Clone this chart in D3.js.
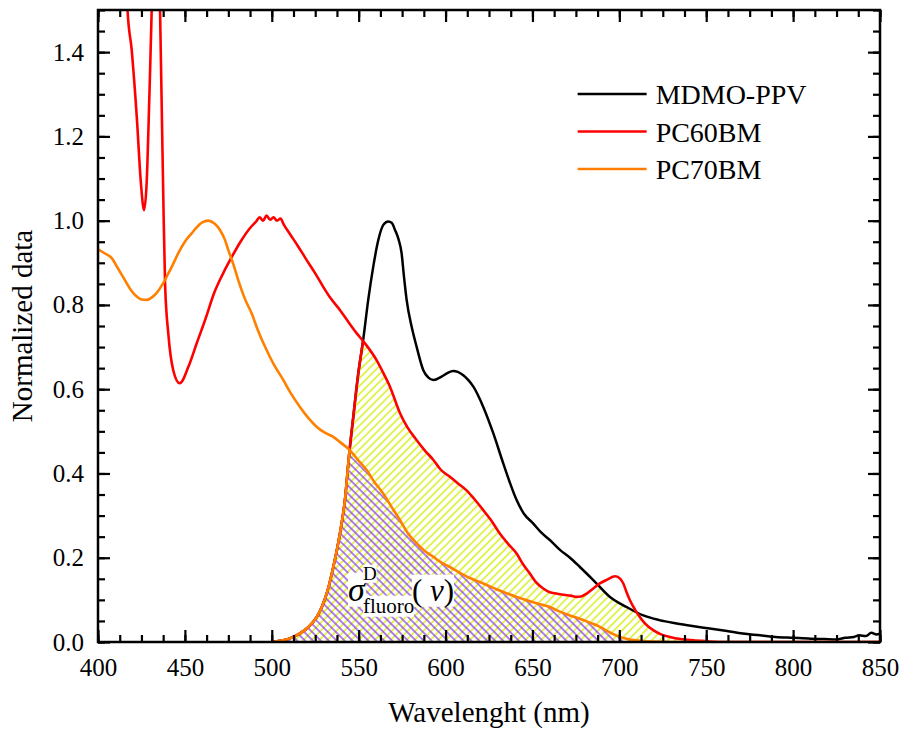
<!DOCTYPE html>
<html>
<head>
<meta charset="utf-8">
<script src="https://cdn.jsdelivr.net/npm/d3@7"></script>
<style>
  body { margin: 0; background: #fff; }
  svg text { font-family: "Liberation Serif", "Times New Roman", serif; fill: #000; }
</style>
</head>
<body>
<div id="chart"></div>
<script>
// ---- data ----
const mdmoWl  = [500,505,510,516,521,526,529,532,535.4,539.2,542.1,544.4,546.9,549.8,552.6,555.5,558.4,561.3,564.2,567,569,570.9,573,574.7,576,577.6,580.5,583.4,587.2,590,593,597.7,601,604.4,607,610.2,613,616,621.7,627.5,633.2,640.9,645,650.5,655,660,666,671.6,677.3,685,694.6,704.2,713.8,723,733,742,752,762,771,781,790,800,810,818,825,830,835,838,842,845,848,850];
const mdmoVal = [0,0.003,0.008,0.02,0.035,0.06,0.085,0.12,0.178,0.257,0.337,0.44,0.534,0.638,0.717,0.812,0.891,0.954,0.99,0.998,0.995,0.978,0.955,0.923,0.87,0.812,0.748,0.70,0.645,0.628,0.622,0.63,0.638,0.643,0.641,0.633,0.622,0.606,0.558,0.495,0.424,0.337,0.305,0.281,0.26,0.242,0.218,0.2,0.178,0.147,0.107,0.083,0.063,0.052,0.044,0.038,0.032,0.026,0.02,0.016,0.012,0.01,0.008,0.007,0.006,0.01,0.012,0.016,0.014,0.022,0.018,0.02];

const pc60Wl  = [400,410,415,417,419.4,422.3,424.7,426.5,428,429.5,430.9,432,433.5,435,435.7,436.6,437.6,438.6,440.5,443.3,447,452,456.8,461.6,467,472,477,482,488,491,493,495,497,499,501,503,505,507,511,515,520,525,529.6,534,539.2,544,548.8,553.6,560.3,564,568,573.8,578,583.4,588,593,597,602.5,607,612.1,617,621.7,626,631.3,636,640.9,644.5,648.6,652,656.2,660,663.9,668,672,675.4,678,681.2,685,688.8,693,697.5,700,702.3,704,706.1,709,711.9,715,719.5,724,729.1,735,742.5,750,760,850];
const pc60Val = [3.0,2.2,1.75,1.5,1.405,1.247,1.089,1.025,1.09,1.287,1.5,1.75,1.85,1.65,1.5,1.287,1.05,0.85,0.73,0.645,0.614,0.653,0.709,0.764,0.83,0.875,0.914,0.95,0.985,0.998,1.008,1.0,1.012,1.002,1.008,1.0,1.005,0.99,0.965,0.94,0.907,0.875,0.843,0.815,0.788,0.76,0.733,0.709,0.669,0.64,0.606,0.543,0.51,0.479,0.455,0.432,0.41,0.392,0.377,0.36,0.337,0.313,0.29,0.257,0.233,0.21,0.185,0.162,0.142,0.127,0.118,0.115,0.112,0.11,0.107,0.108,0.115,0.127,0.139,0.148,0.156,0.152,0.139,0.12,0.099,0.077,0.059,0.043,0.028,0.018,0.012,0.007,0.004,0.002,0,0];

const pc70Wl  = [400,404,407.9,411,415.5,419,422.3,425,428,431,433.7,437,439.5,443,446.2,450,453.9,457,460,463.5,467,470.2,473,475,478,480.7,484.5,488.4,492,497,501,506.6,511,516.2,521,525.8,530,535.4,540,545,549,554.6,559,564.2,569,573.8,578,583.4,588,593,597,602.5,610,615,621.7,630,635,640.9,650,655,660,665.8,671.6,677.3,683,688.8,694,700.3,706,711.9,720,730,850];
const pc70Val = [0.932,0.922,0.911,0.89,0.859,0.835,0.82,0.813,0.812,0.818,0.828,0.848,0.867,0.895,0.923,0.95,0.97,0.985,0.996,1.0,0.993,0.978,0.955,0.93,0.895,0.859,0.815,0.78,0.74,0.693,0.66,0.622,0.59,0.558,0.532,0.511,0.498,0.487,0.472,0.455,0.435,0.408,0.38,0.352,0.32,0.289,0.26,0.234,0.216,0.202,0.19,0.178,0.16,0.15,0.139,0.124,0.116,0.107,0.095,0.089,0.083,0.072,0.063,0.055,0.046,0.036,0.024,0.012,0.006,0.003,0.001,0,0];

const seriesNames  = ["MDMO-PPV", "PC60BM", "PC70BM"];
const seriesColors = ["#000000", "#ff0000", "#ff8000"];
const xTicks = [400, 450, 500, 550, 600, 650, 700, 750, 800, 850];
const yTicks = [0, 0.2, 0.4, 0.6, 0.8, 1.0, 1.2, 1.4];
const xMinor = d3.range(400, 850.01, 12.5);
const yMinor = d3.range(0, 1.501, 0.05);

const serif = "'Liberation Serif','Times New Roman',serif";

// ---- layout ----
const W = 900, H = 731;
const margin = {top: 10, right: 20, bottom: 89, left: 98};
const width = W - margin.left - margin.right;
const height = H - margin.top - margin.bottom;

const svg = d3.select("#chart").append("svg")
    .attr("width", W)
    .attr("height", H);

const g = svg.append("g")
    .attr("transform", `translate(${margin.left},${margin.top})`);

const x = d3.scaleLinear().domain([400, 850]).range([0, width]);
const y = d3.scaleLinear().domain([0, 1.5]).range([height, 0]);

const mdmo = d3.zip(mdmoWl, mdmoVal);
const pc60 = d3.zip(pc60Wl, pc60Val);
const pc70 = d3.zip(pc70Wl, pc70Val);

const line = d3.line().x(d => x(d[0])).y(d => y(d[1])).curve(d3.curveMonotoneX);
const area = d3.area().x(d => x(d[0])).y0(height).y1(d => y(d[1])).curve(d3.curveMonotoneX);

// ---- defs: clips and hatch patterns ----
const defs = svg.append("defs");
defs.append("clipPath").attr("id", "plotClip")
    .append("rect").attr("width", width).attr("height", height);
defs.append("clipPath").attr("id", "underMdmo").append("path").attr("d", area(mdmo));
defs.append("clipPath").attr("id", "underPc60").append("path").attr("d", area(pc60));
defs.append("clipPath").attr("id", "underPc70").append("path").attr("d", area(pc70));
defs.append("clipPath").attr("id", "leftEdge")
    .append("rect").attr("width", x(600)).attr("height", height);

function hatch(id, angle, color) {
    const p = defs.append("pattern").attr("id", id)
        .attr("patternUnits", "userSpaceOnUse")
        .attr("width", 5.6).attr("height", 5.6)
        .attr("patternTransform", `rotate(${angle})`);
    p.append("line")
        .attr("x1", 2.8).attr("y1", 0).attr("x2", 2.8).attr("y2", 5.6)
        .attr("stroke", color).attr("stroke-width", 1.3);
}
hatch("hatchYellow", 45, "#d2ec00");
hatch("hatchPurple", -45, "#8c3cf0");

const plot = g.append("g").attr("clip-path", "url(#plotClip)");

// overlap areas
plot.append("g").attr("clip-path", "url(#underMdmo)")
    .append("path").attr("d", area(pc60)).attr("fill", "url(#hatchYellow)");
plot.append("g").attr("clip-path", "url(#underMdmo)")
    .append("path").attr("d", area(pc70)).attr("fill", "url(#hatchPurple)");

// MDMO-PPV
plot.append("path").attr("d", line(mdmo))
    .attr("fill", "none").attr("stroke", seriesColors[0]).attr("stroke-width", 2.5);

// coloured outline of the overlap on the rising edge
plot.append("g").attr("clip-path", "url(#leftEdge)")
    .append("path").attr("d", line(mdmo)).attr("clip-path", "url(#underPc60)")
    .attr("fill", "none").attr("stroke", seriesColors[1]).attr("stroke-width", 2.6);
plot.append("g").attr("clip-path", "url(#leftEdge)")
    .append("path").attr("d", line(mdmo)).attr("clip-path", "url(#underPc70)")
    .attr("fill", "none").attr("stroke", seriesColors[2]).attr("stroke-width", 2.6);

plot.append("path").attr("d", line(pc60))
    .attr("fill", "none").attr("stroke", seriesColors[1]).attr("stroke-width", 2.6);
plot.append("path").attr("d", line(pc70))
    .attr("fill", "none").attr("stroke", seriesColors[2]).attr("stroke-width", 2.6);

// ---- axes ----
function styleAxis(sel) {
    sel.attr("font-family", null).attr("font-size", null);
    sel.select(".domain").remove();
    sel.selectAll(".tick line").attr("stroke", "#000").attr("stroke-width", 2.2);
    sel.selectAll("text")
        .style("font-family", serif)
        .style("font-size", "25px")
        .attr("fill", "#000");
}

g.append("g").attr("transform", `translate(0,${height})`)
    .call(d3.axisBottom(x).tickValues(xMinor).tickSize(-7).tickFormat(""))
    .call(styleAxis);
g.append("g").attr("transform", `translate(0,${height})`)
    .call(d3.axisBottom(x).tickValues(xTicks).tickSize(-12).tickPadding(16))
    .call(styleAxis);
g.append("g")
    .call(d3.axisTop(x).tickValues(xMinor).tickSize(-7).tickFormat(""))
    .call(styleAxis);
g.append("g")
    .call(d3.axisTop(x).tickValues(xTicks).tickSize(-12).tickFormat(""))
    .call(styleAxis);

g.append("g")
    .call(d3.axisLeft(y).tickValues(yMinor).tickSize(-7).tickFormat(""))
    .call(styleAxis);
g.append("g")
    .call(d3.axisLeft(y).tickValues(yTicks).tickSize(-12).tickPadding(14).tickFormat(d3.format(".1f")))
    .call(styleAxis);
g.append("g").attr("transform", `translate(${width},0)`)
    .call(d3.axisRight(y).tickValues(yMinor).tickSize(-7).tickFormat(""))
    .call(styleAxis);
g.append("g").attr("transform", `translate(${width},0)`)
    .call(d3.axisRight(y).tickValues(yTicks).tickSize(-12).tickFormat(""))
    .call(styleAxis);

g.append("rect")
    .attr("width", width).attr("height", height)
    .attr("fill", "none").attr("stroke", "#000").attr("stroke-width", 2.5);

// axis titles
g.append("text")
    .attr("x", width / 2).attr("y", height + 80)
    .attr("text-anchor", "middle")
    .style("font-family", serif)
    .style("font-size", "29px")
    .text("Wavelenght (nm)");
g.append("text")
    .attr("transform", `translate(${-66},${height / 2}) rotate(-90)`)
    .attr("text-anchor", "middle")
    .style("font-family", serif)
    .style("font-size", "29px")
    .text("Normalized data");

// ---- legend ----
const legend = g.append("g")
    .attr("transform", `translate(${x(676)},${84})`);
seriesNames.forEach((name, i) => {
    const row = legend.append("g").attr("transform", `translate(0,${i * 37.5})`);
    row.append("line")
        .attr("x1", 0).attr("x2", 69)
        .attr("stroke", seriesColors[i]).attr("stroke-width", 2.6);
    row.append("text")
        .attr("x", 78).attr("y", 10)
        .style("font-family", serif)
        .style("font-size", "28px")
        .text(name);
});

// ---- annotation sigma^D_fluoro(nu) ----
const note = g.append("g");
const noteX = x(543.8), noteY = y(0.098);
const parts = [
    {t: "σ", dx: 0, dy: 0, size: 34, italic: true},
    {t: "D", dx: 15, dy: -21, size: 19, italic: false},
    {t: "fluoro", dx: 15, dy: 12, size: 21, italic: false},
    {t: "(ν)", dx: 64, dy: 0, size: 31, italic: false}
];
const bg = note.append("g");
parts.forEach(p => {
    const t = note.append("text")
        .attr("x", noteX + p.dx).attr("y", noteY + p.dy)
        .style("font-family", serif)
        .style("font-size", p.size + "px");
    if (p.t === "(ν)") {
        t.append("tspan").text("(");
        t.append("tspan").style("font-style", "italic").text(" ν");
        t.append("tspan").text(")");
    } else {
        t.style("font-style", p.italic ? "italic" : "normal").text(p.t);
    }
    const b = t.node().getBBox();
    bg.append("rect")
        .attr("x", b.x).attr("y", b.y + 2)
        .attr("width", b.width).attr("height", b.height - 3)
        .attr("fill", "#fff");
});
</script>
</body>
</html>
